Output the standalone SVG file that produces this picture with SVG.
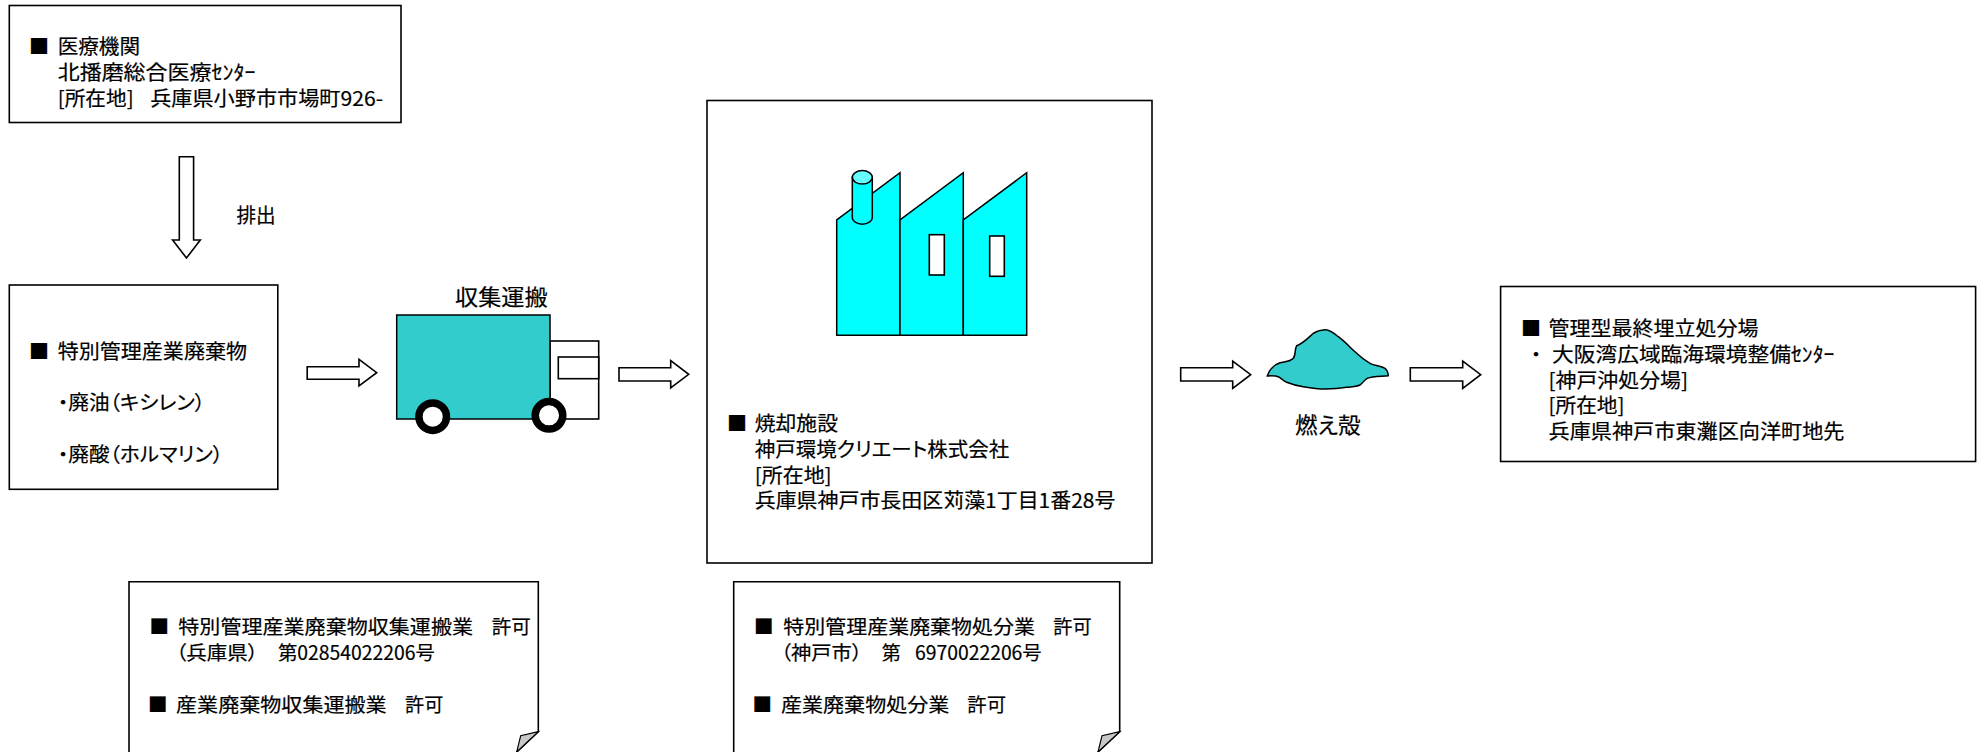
<svg xmlns="http://www.w3.org/2000/svg" width="1983" height="752" viewBox="0 0 1983 752">
<style>
text{font-family:"Noto Sans CJK JP","Noto Sans CJK SC",sans-serif;font-size:20px;fill:#000;stroke:#000;stroke-width:.2;font-feature-settings:"palt";}
.s{font-size:19.5px;}
.b{font-size:21.5px;}
.box{fill:#fff;stroke:#000;stroke-width:1.6;}
.arrow{fill:#fff;stroke:#000;stroke-width:1.6;stroke-linejoin:miter;}
.teal{fill:#33cccc;stroke:#000;stroke-width:1.5;}
.cyan{fill:#00ffff;stroke:#000;stroke-width:1.5;}
.flap{fill:#c8c8c8;stroke:#000;stroke-width:1.2;}
.wheel{fill:#fff;stroke:#000;stroke-width:7.5;}
</style>
<rect width="1983" height="752" fill="#fff"/>
<g id="connectors">
<polygon class="arrow" points="179.3,156.7 193.6,156.7 193.6,240 200.3,240 186.5,258 172.6,240 179.3,240"/>
<polygon class="arrow" points="307.2,366.7 359,366.7 359,359.3 376.7,372.7 359,386 359,379.3 307.2,379.3"/>
<polygon class="arrow" points="619,367.7 670.7,367.7 670.7,360.7 688.7,374.3 670.7,388 670.7,381 619,381"/>
<polygon class="arrow" points="1180.7,367.7 1232.7,367.7 1232.7,361 1250.7,374.7 1232.7,388.3 1232.7,381 1180.7,381"/>
<polygon class="arrow" points="1410.3,367.7 1462.7,367.7 1462.7,361 1480.7,374.7 1462.7,388.3 1462.7,381 1410.3,381"/>
</g>
<g id="node-hospital">
<rect class="box" x="9.3" y="5.5" width="391.7" height="117"/>
<text y="54"><tspan x="29">■</tspan> <tspan x="57.7" textLength="82.3" lengthAdjust="spacingAndGlyphs">医療機関</tspan></text>
<text x="57.7" y="79.5" textLength="197.8" lengthAdjust="spacingAndGlyphs">北播磨総合医療ｾﾝﾀｰ</text>
<text y="105.5"><tspan x="57.7" textLength="76" lengthAdjust="spacingAndGlyphs">[所在地]</tspan> <tspan x="150.2" textLength="232.8" lengthAdjust="spacingAndGlyphs">兵庫県小野市市場町926-</tspan></text>
</g>
<g id="label-discharge">
<text x="236.5" y="222.5" textLength="39.2" lengthAdjust="spacingAndGlyphs">排出</text>
</g>
<g id="node-waste">
<rect class="box" x="9.3" y="285" width="268.5" height="204.3"/>
<text y="359"><tspan x="29">■</tspan> <tspan x="57.7" textLength="189.3" lengthAdjust="spacingAndGlyphs">特別管理産業廃棄物</tspan></text>
<text x="58" y="410" textLength="147" lengthAdjust="spacingAndGlyphs">・廃油（キシレン）</text>
<text x="58" y="461.5" textLength="165" lengthAdjust="spacingAndGlyphs">・廃酸（ホルマリン）</text>
</g>
<g id="node-truck">
<rect class="box" x="550" y="341" width="48.7" height="78"/>
<rect class="box" x="558.3" y="357" width="40.4" height="21.7"/>
<rect class="teal" x="396.7" y="315" width="153.3" height="104"/>
<circle class="wheel" cx="432.7" cy="416.7" r="13.8"/>
<circle class="wheel" cx="549" cy="415.3" r="13.8"/>
<text class="b" x="455" y="305" textLength="92.7" lengthAdjust="spacingAndGlyphs">収集運搬</text>
</g>
<g id="node-incinerator">
<rect class="box" x="707" y="100.5" width="445" height="462.5"/>
<polygon class="cyan" points="836.7,335.3 836.7,220 900,172.7 900,335.3"/>
<polygon class="cyan" points="900,335.3 900,220 963.3,172.7 963.3,335.3"/>
<polygon class="cyan" points="963.3,335.3 963.3,220 1026.7,172.7 1026.7,335.3"/>
<rect class="box" x="929.3" y="234.7" width="15" height="40.3"/>
<rect class="box" x="989.7" y="236" width="14.6" height="40.3"/>
<path class="cyan" d="M852.3,177.3V217.3A10,6.9 0 0 0 872.3,217.3V177.3Z"/>
<ellipse cx="862.3" cy="177.3" rx="10" ry="6.7" fill="#66ffff" stroke="#000" stroke-width="1.5"/>
<text y="431"><tspan x="727">■</tspan> <tspan x="754.7" textLength="83.3" lengthAdjust="spacingAndGlyphs">焼却施設</tspan></text>
<text x="754.7" y="456.5" textLength="254.6" lengthAdjust="spacingAndGlyphs">神戸環境クリエート株式会社</text>
<text x="754.7" y="482.5" textLength="77" lengthAdjust="spacingAndGlyphs">[所在地]</text>
<text x="754.7" y="508.2" textLength="360.7" lengthAdjust="spacingAndGlyphs">兵庫県神戸市長田区苅藻1丁目1番28号</text>
</g>
<g id="node-ash">
<path class="teal" d="M1267.3,376C1271,375.8 1275,375.5 1278.3,376.7C1281,378 1283,380.5 1286.7,382.3C1292,384.5 1298,386 1303.3,386.7C1311,388 1318,389 1325,389C1333,389 1340,388.5 1346.7,387.3C1352,386.8 1357,386.5 1360,385C1363,383 1364,380 1367.3,378.3C1373,376 1382,376.5 1388.3,375.7C1388,372 1387,370 1385,368.3C1381,365.5 1375,366 1370,363.3C1365,360.5 1361,357.5 1356.7,353.3C1350,347.5 1345,341.5 1338.3,336.7C1334,333 1329,329.5 1325,329.7C1320,330 1316,331.5 1313.3,333.3C1308,338 1303,343.5 1296.7,345.7C1294.5,349 1296,355 1293.3,358.3C1290,362 1284.5,361.5 1280,362.7C1276,364 1273.5,366 1271.7,368.3C1269,371 1268,373.5 1267.3,376Z"/>
<text class="b" x="1295" y="433" textLength="65.7" lengthAdjust="spacingAndGlyphs">燃え殻</text>
</g>
<g id="node-landfill">
<rect class="box" x="1500.6" y="286.5" width="475" height="175"/>
<text y="336"><tspan x="1521">■</tspan> <tspan x="1548.5" textLength="209.9" lengthAdjust="spacingAndGlyphs">管理型最終埋立処分場</tspan></text>
<text y="361.6"><tspan x="1531">・</tspan><tspan x="1552" textLength="282.4" lengthAdjust="spacingAndGlyphs">大阪湾広域臨海環境整備ｾﾝﾀｰ</tspan></text>
<text x="1548.5" y="387.6" textLength="139.5" lengthAdjust="spacingAndGlyphs">[神戸沖処分場]</text>
<text x="1548.5" y="412.6" textLength="76" lengthAdjust="spacingAndGlyphs">[所在地]</text>
<text x="1548.5" y="438.6" textLength="296" lengthAdjust="spacingAndGlyphs">兵庫県神戸市東灘区向洋町地先</text>
</g>
<g id="node-permit-transport">
<path class="box" d="M129,760V581.7H538.3V731.7L516.7,752L514,760Z"/>
<path class="flap" d="M538.3,731.7L520.7,735.7L516.7,752Z"/>
<text class="s" y="634"><tspan x="149.5">■</tspan> <tspan x="178.3" textLength="294.7" lengthAdjust="spacingAndGlyphs">特別管理産業廃棄物収集運搬業</tspan> <tspan x="491.7" textLength="39" lengthAdjust="spacingAndGlyphs">許可</tspan></text>
<text class="s" y="660.3"><tspan x="176" textLength="82" lengthAdjust="spacingAndGlyphs">（兵庫県）</tspan> <tspan x="278" textLength="157" lengthAdjust="spacingAndGlyphs">第02854022206号</tspan></text>
<text class="s" y="712"><tspan x="148">■</tspan> <tspan x="176" textLength="210.7" lengthAdjust="spacingAndGlyphs">産業廃棄物収集運搬業</tspan> <tspan x="405" textLength="38.3" lengthAdjust="spacingAndGlyphs">許可</tspan></text>
</g>
<g id="node-permit-disposal">
<path class="box" d="M733.7,760V581.7H1119.7V731.7L1098,752L1095,760Z"/>
<path class="flap" d="M1119.7,731.7L1102,735.7L1098,752Z"/>
<text class="s" y="634"><tspan x="754">■</tspan> <tspan x="783.3" textLength="251.7" lengthAdjust="spacingAndGlyphs">特別管理産業廃棄物処分業</tspan> <tspan x="1053.3" textLength="38.4" lengthAdjust="spacingAndGlyphs">許可</tspan></text>
<text class="s" y="660.3"><tspan x="781" textLength="81" lengthAdjust="spacingAndGlyphs">（神戸市）</tspan> <tspan x="881.7" textLength="19" lengthAdjust="spacingAndGlyphs">第</tspan> <tspan x="915" textLength="126.7" lengthAdjust="spacingAndGlyphs">6970022206号</tspan></text>
<text class="s" y="712"><tspan x="752.5">■</tspan> <tspan x="781" textLength="168.3" lengthAdjust="spacingAndGlyphs">産業廃棄物処分業</tspan> <tspan x="967.3" textLength="38.7" lengthAdjust="spacingAndGlyphs">許可</tspan></text>
</g>
</svg>
